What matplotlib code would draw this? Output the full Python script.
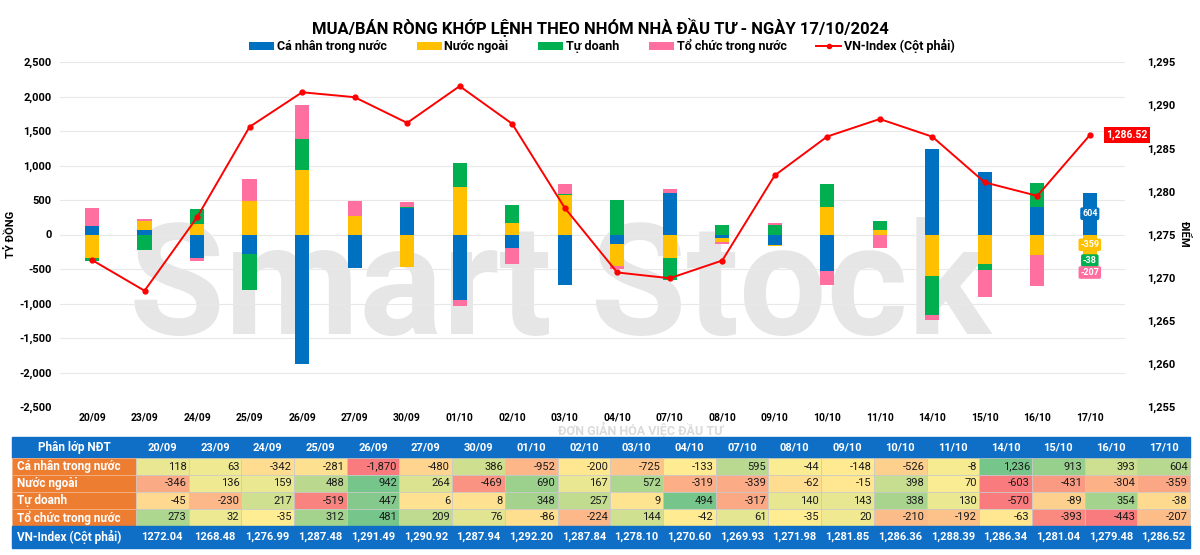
import matplotlib
matplotlib.use("Agg")
import matplotlib.pyplot as plt
import numpy as np
from matplotlib.patches import Patch
from matplotlib.lines import Line2D
from matplotlib.ticker import FuncFormatter, MultipleLocator
from matplotlib.colors import to_rgb

# ---------------- data ----------------
dates = ["20/09", "23/09", "24/09", "25/09", "26/09", "27/09", "30/09", "01/10", "02/10", "03/10",
         "04/10", "07/10", "08/10", "09/10", "10/10", "11/10", "14/10", "15/10", "16/10", "17/10"]
ca_nhan = [118, 63, -342, -281, -1870, -480, 386, -952, -200, -725,
           -133, 595, -44, -148, -526, -8, 1236, 913, 393, 604]
nuoc_ngoai = [-346, 136, 159, 488, 942, 264, -469, 690, 167, 572,
              -319, -339, -62, -15, 398, 70, -603, -431, -304, -359]
tu_doanh = [-45, -230, 217, -519, 447, 6, 8, 348, 257, 9,
            494, -317, 140, 143, 338, 130, -570, -89, 354, -38]
to_chuc = [273, 32, -35, 312, 481, 209, 76, -86, -224, 144,
           -42, 61, -35, 20, -210, -192, -63, -393, -443, -207]
vnindex = [1272.04, 1268.48, 1276.99, 1287.48, 1291.49, 1290.92, 1287.94, 1292.20, 1287.84, 1278.10,
           1270.60, 1269.93, 1271.98, 1281.85, 1286.36, 1288.39, 1286.34, 1281.04, 1279.48, 1286.52]
vnindex_text = ["1272.04", "1268.48", "1,276.99", "1,287.48", "1,291.49", "1,290.92", "1,287.94",
                "1,292.20", "1,287.84", "1,278.10", "1,270.60", "1,269.93", "1,271.98", "1,281.85",
                "1,286.36", "1,288.39", "1,286.34", "1,281.04", "1,279.48", "1,286.52"]
series_names = ["Cá nhân trong nước", "Nước ngoài", "Tự doanh", "Tổ chức trong nước"]
line_name = "VN-Index (Cột phải)"
title = "MUA/BÁN RÒNG KHỚP LỆNH THEO NHÓM NHÀ ĐẦU TƯ - NGÀY 17/10/2024"
watermark = "Smart Stock"
tagline = "ĐƠN GIẢN HÓA VIỆC ĐẦU TƯ"

# ---------------- style ----------------
colors = ["#0070C0", "#FFC000", "#00B050", "#FF6F9F"]
line_color = "#FF0000"
plt.rcParams["font.family"] = ["Roboto", "DejaVu Sans"]

W, H = 1200, 555
fig = plt.figure(figsize=(W / 100, H / 100), dpi=100)

def fx(px):
    return px / W

def fy(py):
    return 1 - py / H

# watermark (kept inside plot area, clear of other texts)
fig.text(fx(560), fy(292), watermark, fontsize=112, color="#E6E6E6", fontweight="bold",
         ha="center", va="center", zorder=-2)
fig.text(fx(640), fy(430), tagline, fontsize=9, color="#DADADA",
         fontweight="bold", ha="center", va="center", zorder=-2)

ax = fig.add_axes([fx(60), fy(407), fx(1125) - fx(60), fy(62) - fy(407)])
ax.patch.set_alpha(0)
x = np.arange(len(dates))
width = 0.27
pos_base = np.zeros(len(dates))
neg_base = np.zeros(len(dates))
bar_containers = []
for vals, c, name in zip([ca_nhan, nuoc_ngoai, tu_doanh, to_chuc], colors, series_names):
    v = np.array(vals, dtype=float)
    bottoms = np.where(v >= 0, pos_base, neg_base)
    bc = ax.bar(x, v, width, bottom=bottoms, color=c, label=name, zorder=3, linewidth=0)
    bar_containers.append((bc, v, bottoms))
    pos_base = pos_base + np.where(v >= 0, v, 0)
    neg_base = neg_base + np.where(v < 0, v, 0)

ax.set_xlim(-0.61, len(dates) - 1 + 0.67)
ax.set_ylim(-2500, 2500)
ax.yaxis.set_major_locator(MultipleLocator(500))
ax.yaxis.set_major_formatter(FuncFormatter(lambda v, p: f"{int(v):,}"))
ax.grid(axis="y", color="#E8E8E8", linewidth=0.8, zorder=0)
ax.set_axisbelow(True)
for s in ax.spines.values():
    s.set_visible(False)
ax.set_xticks(x)
ax.set_xticklabels(dates)
ax.tick_params(axis="x", length=0, pad=4, labelsize=7.5)
ax.tick_params(axis="y", length=0, pad=6, labelsize=8)
for lbl in ax.get_xticklabels() + ax.get_yticklabels():
    lbl.set_fontweight("bold")
ax.set_ylabel("TỶ ĐỒNG", fontsize=8, fontweight="bold", labelpad=2)

# labels on last bar (small nudges keep them from colliding)
last = len(dates) - 1
nudges = [0, 1.5, 0, -2.5]
for (bc, v, b), c, dy in zip(bar_containers, colors, nudges):
    center = b[last] + v[last] / 2
    ax.annotate(f"{int(v[last]):,}", xy=(x[last], center), xytext=(0, dy), textcoords="offset points",
                ha="center", va="center", fontsize=6.5, color="white", fontweight="bold", zorder=5,
                bbox=dict(boxstyle="round,pad=0.2", fc=c, ec="none"))

ax2 = ax.twinx()
ax2.patch.set_alpha(0)
ax2.plot(x, vnindex, color=line_color, linewidth=1.4, marker="o", markersize=3.5, zorder=4)
ax2.set_ylim(1255, 1295)
ax2.yaxis.set_major_locator(MultipleLocator(5))
ax2.yaxis.set_major_formatter(FuncFormatter(lambda v, p: f"{int(v):,}"))
ax2.tick_params(axis="y", length=0, pad=16, labelsize=8)
for lbl in ax2.get_yticklabels():
    lbl.set_fontweight("bold")
for s in ax2.spines.values():
    s.set_visible(False)
ax2.set_ylabel("ĐIỂM", fontsize=8, fontweight="bold", rotation=270, labelpad=10)
ax2.annotate(f"{vnindex[last]:,.2f}", xy=(x[last], vnindex[last]), xytext=(12, 0),
             textcoords="offset points", ha="left", va="center", fontsize=7.5, color="white",
             fontweight="bold", bbox=dict(boxstyle="square,pad=0.25", fc=line_color, ec="none"))

# title & legend
fig.text(0.5, fy(27), title, ha="center", va="center", fontsize=12, fontweight="bold")
handles = [Patch(facecolor=c, label=n) for c, n in zip(colors, series_names)]
handles.append(Line2D([0], [0], color=line_color, marker="o", markersize=3, linewidth=1.4, label=line_name))
fig.legend(handles=handles, loc="center", bbox_to_anchor=(fx(602), fy(46)), ncol=5, frameon=False,
           prop={"weight": "bold", "size": 9}, handlelength=2.0, handleheight=0.6,
           handletextpad=0.2, columnspacing=2.4)

# ---------------- table ----------------
def scale_colors(vals):
    red, yel, grn = np.array(to_rgb("#F8696B")), np.array(to_rgb("#FFEB84")), np.array(to_rgb("#63BE7B"))
    v = np.array(vals, dtype=float)
    lo, mid, hi = v.min(), np.median(v), v.max()
    out = []
    for a in v:
        if a <= mid:
            t = 0 if mid == lo else (a - lo) / (mid - lo)
            c = red + t * (yel - red)
        else:
            t = 0 if hi == mid else (a - mid) / (hi - mid)
            c = yel + t * (grn - yel)
        c = c * 0.88 + 0.12  # slightly washed like reference
        out.append(tuple(c))
    return out

rows = [ca_nhan, nuoc_ngoai, tu_doanh, to_chuc]
cell_text = [["Phân lớp NĐT"] + dates]
for name, r in zip(series_names, rows):
    cell_text.append([name] + [f"{v:,}" for v in r])
cell_text.append([line_name] + vnindex_text)

tax = fig.add_axes([fx(12), fy(548), fx(1190) - fx(12), fy(437) - fy(548)])
tax.axis("off")
label_w = 124
col_w = (1178 - label_w) / len(dates)
col_widths = [label_w / 1178] + [col_w / 1178] * len(dates)
tbl = tax.table(cellText=cell_text, colWidths=col_widths, bbox=[0, 0, 1, 1], cellLoc="right")
tbl.auto_set_font_size(False)
tbl.set_fontsize(8)

header_blue = "#0F6FC6"
orange = "#ED7D31"
row_heights = [21, 17, 17, 17, 17, 22]
row_cols = [scale_colors(r) for r in rows]
for (r, c), cell in tbl.get_celld().items():
    cell.set_height(row_heights[r])
    cell.PAD = 0.04
    txt = cell.get_text()
    if r == 0 or r == 5:
        cell.set_facecolor(header_blue)
        cell.set_edgecolor(header_blue)
        txt.set_color("white")
        txt.set_fontweight("bold")
        txt.set_horizontalalignment("left" if (c == 0 and r == 5) else "center")
    elif c == 0:
        cell.set_facecolor(orange)
        cell.set_edgecolor("#F4B183")
        cell.set_linewidth(0.6)
        txt.set_color("white")
        txt.set_fontweight("bold")
        txt.set_horizontalalignment("left")
        txt.set_fontsize(8.5)
    else:
        cell.set_facecolor(row_cols[r - 1][c - 1])
        cell.set_edgecolor("#C8C8C8")
        cell.set_linewidth(0.5)
        txt.set_color("#1A1A1A")
        txt.set_horizontalalignment("right")
    if c == 0 and r in (0, 5):
        txt.set_fontsize(8.5)

fig.savefig("out.png", dpi=100)
